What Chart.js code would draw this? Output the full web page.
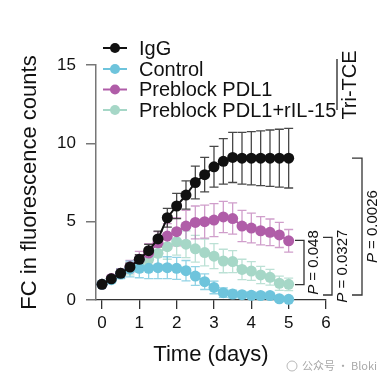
<!DOCTYPE html>
<html>
  <script src="https://cdn.jsdelivr.net/npm/chart.js@4.4.0/dist/chart.umd.min.js"></script>
  <style>
    body { margin: 0; background: #fff; }
    #wrap { width: 392px; height: 384px; }
  </style>
  <body>
    <div id="wrap"><canvas id="myChart"></canvas></div>

    <script>
      // time points (days)
      const days = [0, 0.25, 0.5, 0.75, 1, 1.25, 1.5, 1.75, 2, 2.25, 2.5, 2.75, 3, 3.25, 3.5, 3.75, 4, 4.25, 4.5, 4.75, 5];

      const seriesNames = ["IgG", "Control", "Preblock PDL1", "Preblock PDL1+rIL-15"];

      const igg = [1.0, 1.35, 1.7, 2.1, 2.6, 3.15, 3.9, 5.25, 6.0, 6.7, 7.5, 8.0, 8.5, 8.85, 9.1, 9.05, 9.05, 9.05, 9.05, 9.05, 9.05];
      const iggErr = [0.1, 0.15, 0.2, 0.25, 0.3, 0.4, 0.5, 0.6, 0.8, 0.9, 1.05, 1.1, 1.3, 1.45, 1.6, 1.65, 1.7, 1.75, 1.8, 1.85, 1.9];

      const control = [1.0, 1.3, 1.66, 1.98, 2.02, 2.02, 2.06, 2.06, 2.02, 1.87, 1.53, 1.17, 0.8, 0.47, 0.38, 0.34, 0.3, 0.28, 0.28, 0.08, 0.04];
      const controlErr = [0.1, 0.2, 0.3, 0.5, 0.6, 0.65, 0.7, 0.7, 0.7, 0.65, 0.6, 0.5, 0.4, 0.3, 0.25, 0.2, 0.2, 0.2, 0.2, 0.15, 0.1];

      const pdl1 = [1.0, 1.38, 1.7, 2.13, 2.6, 3.0, 3.66, 4.08, 4.36, 4.72, 4.95, 5.0, 5.1, 5.3, 5.2, 4.72, 4.59, 4.42, 4.32, 4.15, 3.78];
      const pdl1Err = [0.1, 0.2, 0.3, 0.4, 0.5, 0.6, 0.7, 0.8, 0.9, 1.0, 1.05, 1.05, 1.05, 1.0, 1.0, 1.0, 0.95, 0.9, 0.85, 0.8, 0.72];

      const pdl1il15 = [1.0, 1.35, 1.7, 2.0, 2.3, 2.6, 2.98, 3.4, 3.72, 3.56, 3.27, 3.03, 2.8, 2.49, 2.45, 1.95, 1.85, 1.6, 1.45, 1.07, 1.0];
      const pdl1il15Err = [0.1, 0.2, 0.3, 0.4, 0.5, 0.6, 0.7, 0.8, 0.85, 0.85, 0.85, 0.85, 0.8, 0.75, 0.7, 0.65, 0.6, 0.55, 0.5, 0.45, 0.4];

      const xTicks = [0, 1, 2, 3, 4, 5, 6];
      const yTicks = [0, 5, 10, 15];

      // significance brackets: top value, bottom value, p text
      const pValues = ["0.048", "0.0327", "0.0026"];
      const bracketTop = [3.8, 4.0, 9.05];
      const bracketBottom = [0.98, 0.32, 0.32];

      const colors = ["#111111", "#6EC4DC", "#B05DA8", "#A6D7C7"];
      const errColors = ["rgba(40,40,40,0.85)", "rgba(110,196,220,0.75)", "rgba(176,93,168,0.6)", "rgba(166,215,199,0.75)"];
      const allValues = [igg, control, pdl1, pdl1il15];
      const allErrors = [iggErr, controlErr, pdl1Err, pdl1il15Err];

      const FONT = "'Liberation Sans', Arial, sans-serif";

      const datasets = seriesNames.map((name, i) => ({
        label: name,
        data: days.map((d, j) => ({ x: d, y: allValues[i][j] })),
        borderColor: colors[i],
        backgroundColor: colors[i],
        pointBackgroundColor: colors[i],
        pointBorderWidth: 0,
        pointRadius: 5.5,
        borderWidth: 2,
        clip: false,
      }));

      const extras = {
        id: "extras",
        beforeDatasetsDraw(chart) {
          const ctx = chart.ctx;
          const ys = chart.scales.y;
          ctx.save();
          for (let i = allValues.length - 1; i >= 0; i--) {
            const meta = chart.getDatasetMeta(i);
            ctx.strokeStyle = errColors[i];
            ctx.lineWidth = 1.3;
            meta.data.forEach((pt, j) => {
              const v = allValues[i][j];
              const e = allErrors[i][j];
              const top = ys.getPixelForValue(v + e);
              const bot = ys.getPixelForValue(v - e);
              ctx.beginPath();
              ctx.moveTo(pt.x, top);
              ctx.lineTo(pt.x, bot);
              ctx.moveTo(pt.x - 4.5, top);
              ctx.lineTo(pt.x + 4.5, top);
              ctx.moveTo(pt.x - 4.5, bot);
              ctx.lineTo(pt.x + 4.5, bot);
              ctx.stroke();
            });
          }
          ctx.restore();
        },
        afterDraw(chart) {
          const ctx = chart.ctx;
          const ys = chart.scales.y;
          ctx.save();

          // legend
          const legendY = [48, 69, 89.5, 110];
          seriesNames.forEach((name, i) => {
            ctx.strokeStyle = colors[i];
            ctx.fillStyle = colors[i];
            ctx.lineWidth = 2;
            ctx.beginPath();
            ctx.moveTo(103, legendY[i]);
            ctx.lineTo(127, legendY[i]);
            ctx.stroke();
            ctx.beginPath();
            ctx.arc(115, legendY[i], 5, 0, Math.PI * 2);
            ctx.fill();
            ctx.fillStyle = "#111";
            ctx.font = "20px " + FONT;
            ctx.textBaseline = "middle";
            ctx.textAlign = "left";
            ctx.fillText(name, 139, legendY[i] + 1);
          });

          // Tri-TCE label
          ctx.strokeStyle = "#222";
          ctx.lineWidth = 1.3;
          ctx.beginPath();
          ctx.moveTo(337, 59);
          ctx.lineTo(337, 110);
          ctx.stroke();
          ctx.save();
          ctx.translate(350, 85);
          ctx.rotate(-Math.PI / 2);
          ctx.fillStyle = "#111";
          ctx.font = "20px " + FONT;
          ctx.textAlign = "center";
          ctx.textBaseline = "middle";
          ctx.fillText("Tri-TCE", 0, 0);
          ctx.restore();

          // brackets
          const bx = [[295, 304, 314], [323, 332, 343], [352, 362, 373]];
          ctx.strokeStyle = "#333";
          ctx.lineWidth = 1.3;
          pValues.forEach((p, i) => {
            const t = ys.getPixelForValue(bracketTop[i]);
            const b = ys.getPixelForValue(bracketBottom[i]);
            ctx.beginPath();
            ctx.moveTo(bx[i][0], t);
            ctx.lineTo(bx[i][1], t);
            ctx.lineTo(bx[i][1], b);
            ctx.lineTo(bx[i][0], b);
            ctx.stroke();

            const cy = (t + b) / 2;
            ctx.save();
            ctx.translate(bx[i][2], cy);
            ctx.rotate(-Math.PI / 2);
            ctx.fillStyle = "#111";
            ctx.textBaseline = "middle";
            ctx.textAlign = "left";
            ctx.font = "italic 15px " + FONT;
            const wP = ctx.measureText("P").width;
            ctx.font = "15px " + FONT;
            const rest = " = " + p;
            const wR = ctx.measureText(rest).width;
            const x0 = -(wP + wR) / 2;
            ctx.font = "italic 15px " + FONT;
            ctx.fillText("P", x0, 0);
            ctx.font = "15px " + FONT;
            ctx.fillText(rest, x0 + wP, 0);
            ctx.restore();
          });

          // watermark
          ctx.fillStyle = "#a8a8a8";
          ctx.font = "11px 'Noto Sans CJK SC', sans-serif";
          ctx.textAlign = "left";
          ctx.textBaseline = "middle";
          ctx.fillText("公众号 · Bloki", 302, 366);
          ctx.strokeStyle = "#b8b8b8";
          ctx.lineWidth = 1;
          ctx.beginPath();
          ctx.arc(292, 366, 5, 0, Math.PI * 2);
          ctx.stroke();

          ctx.restore();
        },
      };

      new Chart(document.getElementById("myChart"), {
        type: "line",
        data: { datasets: datasets },
        options: {
          responsive: true,
          maintainAspectRatio: false,
          animation: false,
          layout: { padding: { top: 65, right: 66, left: 0, bottom: 0 } },
          plugins: { legend: { display: false }, tooltip: { enabled: false } },
          scales: {
            x: {
              type: "linear",
              min: -0.16,
              max: 6,
              afterFit: (s) => { s.height = 84; },
              afterBuildTicks: (s) => { s.ticks = xTicks.map((v) => ({ value: v })); },
              grid: { drawOnChartArea: false, tickLength: 9, color: "#333", lineWidth: 1.3 },
              border: { color: "#333", width: 1.3 },
              ticks: { color: "#111", font: { size: 17, family: FONT }, padding: 4, maxRotation: 0 },
              title: { display: true, text: "Time (days)", color: "#111", font: { size: 22, family: FONT }, padding: { top: 0, bottom: 16 } },
            },
            y: {
              min: 0,
              max: 15,
              afterFit: (s) => { s.width = 96; },
              afterBuildTicks: (s) => { s.ticks = yTicks.map((v) => ({ value: v })); },
              grid: { drawOnChartArea: false, tickLength: 10, color: "#777", lineWidth: 1.5 },
              border: { color: "#777", width: 1.5 },
              ticks: { color: "#111", font: { size: 17, family: FONT }, padding: 10 },
              title: { display: true, text: "FC in fluorescence counts", color: "#111", font: { size: 22, family: FONT }, padding: { top: 17, bottom: 0 } },
            },
          },
        },
        plugins: [extras],
      });
    </script>
  </body>
</html>
